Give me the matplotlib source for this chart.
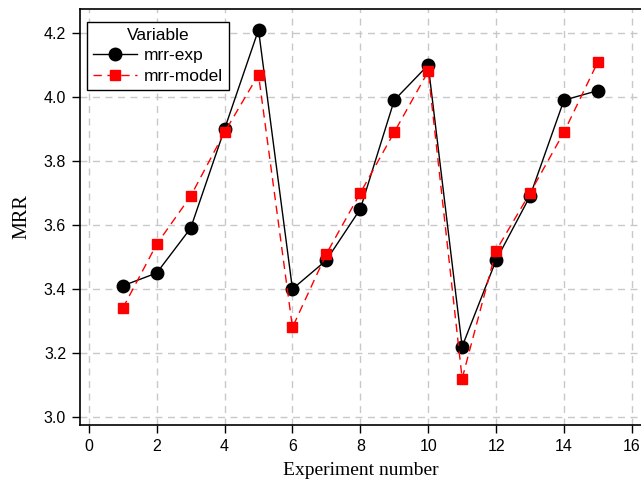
import matplotlib
matplotlib.use("Agg")
import matplotlib.pyplot as plt

experiment = list(range(1, 16))
mrr_exp = [3.41, 3.45, 3.59, 3.90, 4.21, 3.40, 3.49, 3.65, 3.99, 4.10, 3.22, 3.49, 3.69, 3.99, 4.02]
mrr_model = [3.34, 3.54, 3.69, 3.89, 4.07, 3.28, 3.51, 3.70, 3.89, 4.08, 3.12, 3.52, 3.70, 3.89, 4.11]
xticks = [0, 2, 4, 6, 8, 10, 12, 14, 16]
yticks = [3.0, 3.2, 3.4, 3.6, 3.8, 4.0, 4.2]

W, H = 641, 479
fig = plt.figure(figsize=(W / 100, H / 100), dpi=100)
ax = fig.add_axes([80 / W, (H - 425) / H, (642 - 80) / W, (425 - 9) / H])

ax.plot(experiment, mrr_exp, color="black", lw=1.0, marker="o", ms=9,
        label="mrr-exp", zorder=3)
ax.plot(experiment, mrr_model, color="red", lw=1.0, ls=(0, (6, 4)), marker="s", ms=7,
        label="mrr-model", zorder=4)

ax.set_xlim(-0.26, 16.3)
ax.set_ylim(2.975, 4.275)
ax.set_xticks(xticks)
ax.set_yticks(yticks)
ax.set_yticklabels([f"{v:.1f}" for v in yticks])
ax.grid(True, color="#c8c8c8", ls=(0, (5, 4)), lw=1.0)
ax.set_axisbelow(True)

for lab in ax.get_xticklabels() + ax.get_yticklabels():
    lab.set_family("Liberation Sans")
    lab.set_fontsize(11.5)
ax.tick_params(direction="out", length=6, width=1.0, colors="black", pad=4)
for s in ax.spines.values():
    s.set_linewidth(1.2)

ax.set_xlabel("Experiment number", family="Liberation Serif", fontsize=14, labelpad=6)
ax.set_ylabel("MRR", family="Liberation Serif", fontsize=14.5, labelpad=9)

leg = ax.legend(title="Variable", loc="upper left", bbox_to_anchor=(0.0125, 0.969),
                prop={"family": "Liberation Sans", "size": 12.5},
                title_fontproperties={"family": "Liberation Sans", "size": 12.5},
                fancybox=False, edgecolor="black", framealpha=1, borderaxespad=0,
                handlelength=2.5, borderpad=0.35, labelspacing=0.3, handletextpad=0.4)
leg.get_frame().set_linewidth(1.0)

fig.savefig("out.png", dpi=100)
